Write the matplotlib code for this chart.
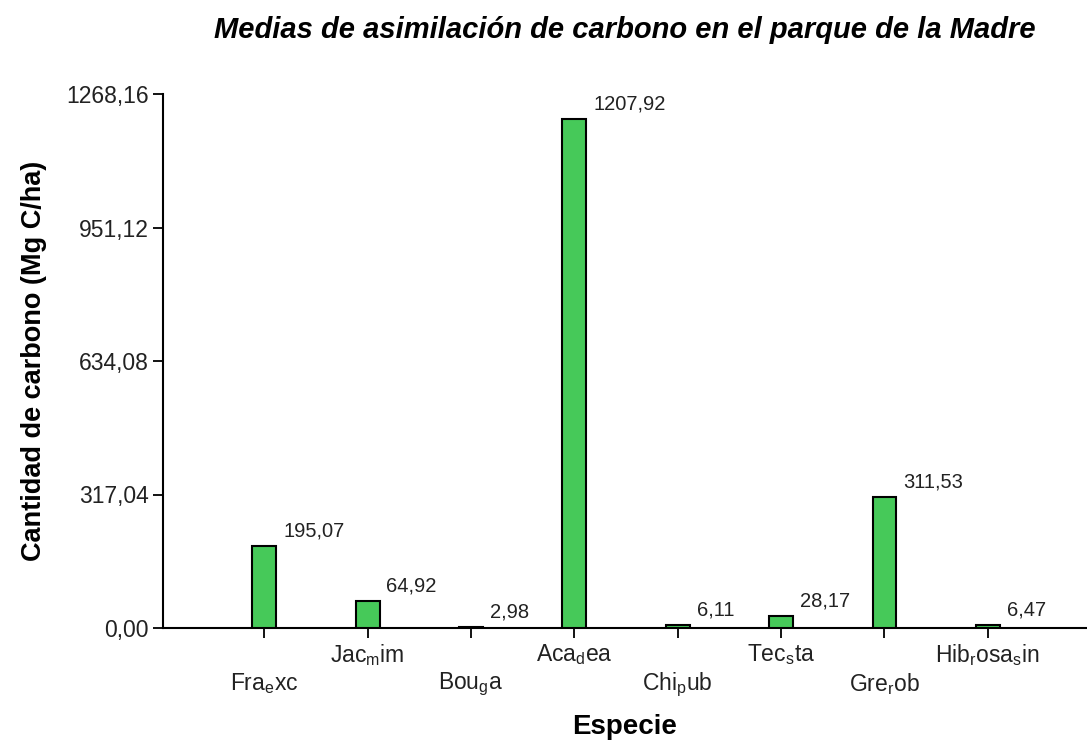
import matplotlib
matplotlib.use("Agg")
import matplotlib.pyplot as plt

species = [r"Fra$_\mathregular{e}$xc", r"Jac$_\mathregular{m}$im", r"Bou$_\mathregular{g}$a",
           r"Aca$_\mathregular{d}$ea", r"Chi$_\mathregular{p}$ub", r"Tec$_\mathregular{s}$ta",
           r"Gre$_\mathregular{r}$ob", r"Hib$_\mathregular{r}$osa$_\mathregular{s}$in"]
values = [195.07, 64.92, 2.98, 1207.92, 6.11, 28.17, 311.53, 6.47]
value_labels = ["195,07", "64,92", "2,98", "1207,92", "6,11", "28,17", "311,53", "6,47"]
yticks = [0.00, 317.04, 634.08, 951.12, 1268.16]
ytick_labels = ["0,00", "317,04", "634,08", "951,12", "1268,16"]

plt.rcParams['font.family'] = ['Liberation Sans', 'DejaVu Sans']
plt.rcParams['mathtext.fontset'] = 'custom'
plt.rcParams['mathtext.rm'] = 'Liberation Sans'
plt.rcParams['mathtext.default'] = 'regular'

W, H = 1087, 742
fig = plt.figure(figsize=(W / 100, H / 100), dpi=100)
ax_left, ax_bottom, ax_top = 163, 628, 94
ax = fig.add_axes([ax_left / W, 1 - ax_bottom / H, 1 - ax_left / W, (ax_bottom - ax_top) / H])

x = list(range(1, len(values) + 1))
ax.bar(x, values, width=0.23, color='#46c959', edgecolor='black', linewidth=1.5, zorder=3)
for xi, v, lab in zip(x, values, value_labels):
    ax.annotate(lab, (xi + 0.115, v), xytext=(5, 4), textcoords='offset points',
                ha='left', va='bottom', fontsize=14.5, color='#222222')

ax.set_xlim(0.02, 8.96)
ax.set_ylim(0, 1268.16)
ax.set_yticks(yticks)
ax.set_yticklabels(ytick_labels, fontsize=16.5, color='#222222')
ax.set_xticks(x)
ax.set_xticklabels(species, fontsize=16.5, color='#222222')
for i, t in enumerate(ax.xaxis.get_major_ticks()):
    t.set_pad(3 if i % 2 == 1 else 24)

ax.spines['top'].set_visible(False)
ax.spines['right'].set_visible(False)
for s in ['left', 'bottom']:
    ax.spines[s].set_linewidth(1.5)
ax.tick_params(axis='both', direction='out', length=7, width=1.3)
ax.tick_params(axis='y', pad=3)

ax.set_xlabel("Especie", fontsize=20, fontweight='bold')
ax.xaxis.set_label_coords(0.5, -(714 - ax_bottom) / (ax_bottom - ax_top))
ax.set_ylabel("Cantidad de carbono (Mg C/ha)", fontsize=19.5, fontweight='bold')
ax.yaxis.set_label_coords(-(ax_left - 47) / (W - ax_left), 0.5)
fig.text((ax_left + W) / 2 / W, 1 - 30 / H,
         "Medias de asimilación de carbono en el parque de la Madre",
         fontsize=21, fontweight='bold', style='italic', ha='center', va='center')

fig.savefig("out.png", dpi=100)
